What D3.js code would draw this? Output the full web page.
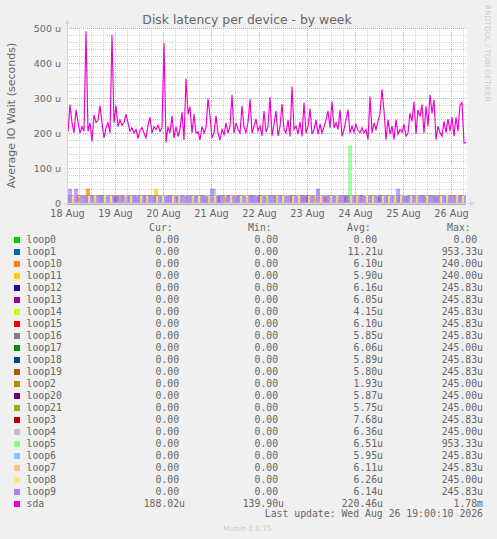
<!DOCTYPE html>
<html><head><meta charset="utf-8">
<script src="https://cdn.jsdelivr.net/npm/d3@7/dist/d3.min.js"></script>
<style>
html,body{margin:0;padding:0;background:#F0F0F0;}
svg{display:block;}
</style></head>
<body>
<script>
// ---------- data ----------
const seriesNames = ["loop0","loop1","loop10","loop11","loop12","loop13","loop14","loop15","loop16","loop17","loop18","loop19","loop2","loop20","loop21","loop3","loop4","loop5","loop6","loop7","loop8","loop9","sda"];
const seriesColors = ["#00CC00","#0066B3","#FF8000","#FFCC00","#330099","#990099","#CCFF00","#FF0000","#808080","#008F00","#00487D","#B35A00","#B38F00","#6B006B","#8FB300","#B30000","#BEBEBE","#80FF80","#80C9FF","#FFC080","#FFE680","#AA80FF","#EE00CC"];
const curValues = ["0.00","0.00","0.00","0.00","0.00","0.00","0.00","0.00","0.00","0.00","0.00","0.00","0.00","0.00","0.00","0.00","0.00","0.00","0.00","0.00","0.00","0.00","188.02u"];
const minValues = ["0.00","0.00","0.00","0.00","0.00","0.00","0.00","0.00","0.00","0.00","0.00","0.00","0.00","0.00","0.00","0.00","0.00","0.00","0.00","0.00","0.00","0.00","139.90u"];
const avgValues = ["0.00","11.21u","6.10u","5.90u","6.16u","6.05u","4.15u","6.10u","5.85u","6.06u","5.89u","5.80u","1.93u","5.87u","5.75u","7.68u","6.36u","6.51u","5.95u","6.11u","6.26u","6.14u","220.46u"];
const maxValues = ["0.00","953.33u","240.00u","240.00u","245.83u","245.83u","245.83u","245.83u","245.83u","245.00u","245.83u","245.83u","245.00u","245.00u","245.00u","245.83u","245.00u","953.33u","245.83u","245.83u","245.00u","245.83u","1.78m"];

// sda: hourly values (micro-seconds), 18 Aug 00:00 onwards
const sdaValues = [204,281,229,200,266,232,200,218,205,491,205,229,176,252,230,237,278,229,186,215,
229,200,481,229,278,218,237,222,230,254,229,205,215,200,210,185,207,215,200,186,
222,245,200,218,210,222,205,215,457,173,218,200,249,186,218,190,212,259,180,355,
254,275,200,254,200,203,180,218,200,215,298,249,186,200,249,200,180,210,195,229,
200,220,309,200,229,210,200,277,218,200,230,297,200,218,240,206,220,192,263,203,
218,303,192,225,263,192,218,283,210,200,237,190,333,210,220,197,232,190,287,200,
218,270,197,210,237,197,225,200,218,237,263,215,290,215,230,210,266,191,210,238,
266,200,220,202,225,207,201,215,200,210,181,304,200,229,210,233,256,325,263,181,
238,197,220,181,238,197,210,202,225,191,200,256,233,290,197,266,247,281,200,276,
220,309,256,295,181,220,201,191,233,201,240,205,245,191,245,205,280,287,172,172];

// loop devices: hourly levels, one digit per hour (digit x 10 u)
const loop0  = "0000000000 0000000000 0000000000 0000000000 0000000000 0000000000 0000000000 0000000000 0000000000 0000000000 0000000000 0000000000 0000000000 0000000000 0000000000 0000000000 0000000000 0000000000 0000000000 0000000000";
const loop1  = "0002000200 0200020000 2000002000 0020000200 0200020000 0002000020 2000020000 0020000200 0200002000 0002000200 2000020000 0020000200 0200002000 0002000020 2000200000 0020000200 0200020000 0002000020 2000002000 0020000200";
const loop10 = "0200002000 4000200000 0020000200 2000020000 0002000020 0200002000 0020000200 2000020000 0002000200 0200002000 0020000020 2000200000 0002000020 0200002000 0020000200 2000020000 0002000200 0200000200 0020002000 2000020000";
const loop11 = "0020000200 0002000020 2000020000 0200002000 0000400200 0020000020 2000200000 0002000200 0200002000 0020000020 2000020000 0002000200 0200002000 0020000200 2000020000 0002000020 0200200000 0020000200 2000020000 0002000020";
const loop12 = "2000200000 0020000200 0200002000 0002000020 2000020000 0020000200 0200020000 0002000020 2000002000 0020000200 0200002000 0002000020 2000200000 0020000200 0200002000 0002000200 2000020000 0020000020 0200002000 0002000200";
const loop13 = "0200020000 0002000200 2000020000 0020000020 0200002000 0002000200 2000020000 0020000200 0200002000 0002000020 2000200000 0020000200 0200002000 0002000020 2000020000 0020000200 0200002000 0002000200 2000020000 0020000020";
const loop14 = "0000200000 0200000020 0002000000 2000000200 0000200000 0020000002 0200000000 0002000200 0000020000 2000000200 0020000000 0000200020 0200000000 0002000002 0000200000 0200000020 0002000000 2000002000 0000200000 0020000002";
const loop15 = "0020000020 2000020000 0002000200 0200002000 0020000200 2000002000 0002000020 0200020000 0020000200 2000002000 0002000200 0200002000 0020000020 2000020000 0002000200 0200002000 0020000200 2000020000 0002000020 0200002000";
const loop16 = "2000002000 0020000200 0200020000 0002000020 2000020000 0020000200 0200002000 0002000200 2000020000 0020000020 0200002000 0002000200 2000020000 0020000200 0200002000 0002000020 2000200000 0020000200 0200002000 0002000200";
const loop17 = "0002000020 0200002000 2000020000 0020000200 0002000020 0200020000 2000002000 0020000200 0002000200 0200002000 2000020000 0020000020 0002000200 0200002000 2000020000 0020000200 0002000020 0200020000 2000002000 0020000200";
const loop18 = "0200002000 2000020000 0020000200 0002000020 0200020000 2000002000 0020000200 0002000200 0200002000 2000020000 0020000020 0002000200 0200002000 2000020000 0020000200 0002000020 0200020000 2000002000 0020000200 0002000200";
const loop19 = "0020000200 0002000020 0200002000 2000020000 0020000200 0002000200 0200002000 2000020000 0020000020 0002000200 0200002000 2000020000 0020000200 0002000020 0200020000 2000002000 0020000200 0002000200 0200002000 2000020000";
const loop2  = "0000000200 0000000000 2000000000 0000020000 0000000000 0200000000 0000000020 0000000000 0020000000 0000000000 0000200000 0000000000 2000000000 0000002000 0000000000 0002000000 0000000000 0200000000 0000000200 0000000000";
const loop20 = "2000020000 0020000200 0002000020 0200002000 2000200000 0020000200 0002000020 0200002000 2000020000 0020000200 0002000200 0200002000 2000020000 0020000020 0002000200 0200002000 2000020000 0020000200 0002000020 0200002000";
const loop21 = "0002000200 0200002000 2000020000 0020000200 0002000020 0200002000 2000200000 0020000200 0002000020 0200002000 2000020000 0020000200 0002000200 0200002000 2000020000 0020000020 0002000200 0200002000 2000020000 0020000200";
const loop3  = "2000020000 0200002000 0020000200 0002000020 2000200000 0200002000 0020000200 0002000020 2000020000 0200002000 0020000200 0002000020 2000200000 0200002000 0020000200 0002000020 2000020000 0200002000 0020000200 0002000020";
const loop4  = "0020000200 2000020000 0200002000 0002000020 0020000200 2000002000 0200020000 0002000200 0020000020 2000200000 0200002000 0002000020 0020040000 2000020000 0200002000 0002000200 0020000020 2000200000 0200002000 0002000020";
const loop5  = "0200000200 0002000020 0020000200 2000020000 0200002000 0002000200 0020000020 2000200000 0200002000 0002000020 0020000200 2000020000 0200002000 0002000200 0000000000 0020000020 2000200000 0200002000 0020000200 0002000020";
const loop6  = "0000200020 0020000200 2000002000 0200020000 0002000020 0020000200 2000020000 0004000200 0200002000 0002000020 0020000200 2000020000 0200002000 0002000200 0020000020 2000200000 0200002000 0020000200 0002000020 2000020000";
const loop7  = "0002000020 0200020000 0200002000 0020000200 2000020000 0002000020 0200002000 0020000200 0000200020 0200000200 0002000020 2000020000 0020002000 0200000200 0002000020 2000200000 0020000200 0002000002 0200002000 0020000200";
const loop8  = "0002002000 0200200002 0020000002 0020000200 2000020020 0002002000 0002002000 0200200002 0020000200 2000000200 2000020020 0002002000 0200200200 0020020000 0020020000 2002000020 0200200200 0020020000 2000000200 2000020020";
const loop9  = "0400400202 0020020200 2002020200 2002020020 0202002002 0200200202 0200200202 0040020200 2002020020 0202020020 0202002002 0200200202 0020040020 2002002020 2002002020 0200202002 0020040020 2002002020 0202020020 0202002002";
const loopLevels = [loop0,loop1,loop10,loop11,loop12,loop13,loop14,loop15,loop16,loop17,loop18,loop19,loop2,loop20,loop21,loop3,loop4,loop5,loop6,loop7,loop8,loop9];
// larger isolated peaks: [series, hour index, value in u]
const loopPeaks = [["loop5", 141, 164]];

const yTickValues = [0,100,200,300,400,500];

// ---------- layout ----------
const W = 497, H = 539;
const PL = 67, PR = 467, PT = 28, PB = 203;
const start = Date.UTC(2026,7,18,0,0,0);
const HOUR = 3600e3;
const NPTS = 200;

const svg = d3.select("body").append("svg").attr("width",W).attr("height",H)
  .style("font-family","'DejaVu Sans', sans-serif");
svg.append("rect").attr("width",W).attr("height",H).attr("fill","#F0F0F0");

const x = d3.scaleUtc().domain([start, start + NPTS*HOUR]).range([PL, PR]);
const y = d3.scaleLinear().domain([0,500]).range([PB, PT]);

svg.append("rect").attr("x",PL).attr("y",PT).attr("width",PR-PL).attr("height",PB-PT).attr("fill","#FFFFFF");

// grid
const g = svg.append("g");
const minorX = d3.utcHour.every(6).range(new Date(start), new Date(start + NPTS*HOUR));
const majorX = d3.utcDay.range(new Date(start), new Date(start + NPTS*HOUR + 1));
const minorY = d3.range(0, 501, 20);
g.selectAll(".mnx").data(minorX.filter(d => d.getUTCHours() !== 0)).join("line")
  .attr("x1", d => Math.round(x(d))+0.5).attr("x2", d => Math.round(x(d))+0.5)
  .attr("y1", PT).attr("y2", PB).attr("stroke","#D0D0D0").attr("stroke-dasharray","1,1");
g.selectAll(".mny").data(minorY.filter(d => d % 100 !== 0)).join("line")
  .attr("x1", PL).attr("x2", PR)
  .attr("y1", d => Math.round(y(d))+0.5).attr("y2", d => Math.round(y(d))+0.5)
  .attr("stroke","#D0D0D0").attr("stroke-dasharray","1,1");
g.selectAll(".mjx").data(majorX).join("line")
  .attr("x1", d => Math.round(x(d))+0.5).attr("x2", d => Math.round(x(d))+0.5)
  .attr("y1", PT).attr("y2", PB).attr("stroke","#E8A0A0").attr("stroke-dasharray","1,1");
g.selectAll(".mjy").data(yTickValues).join("line")
  .attr("x1", PL).attr("x2", PR)
  .attr("y1", d => Math.round(y(d))+0.5).attr("y2", d => Math.round(y(d))+0.5)
  .attr("stroke","#E8A0A0").attr("stroke-dasharray","1,1");

// series
const plot = svg.append("g");

const stepLine = d3.line().x(d => Math.round(x(d.t))).y(d => Math.round(y(d.v)) + 0.5).curve(d3.curveStepAfter);
const linLine = d3.line().x(d => x(d.t)).y(d => y(d.v));

loopLevels.forEach((s, k) => {
  const name = seriesNames[k];
  const vals = s.replace(/ /g,"").split("").map(c => +c * 10);
  loopPeaks.filter(p => p[0] === name).forEach(p => { vals[p[1]] = p[2]; });
  const pts = vals.map((v,i) => ({t: start + i*HOUR, v}));
  pts.push({t: start + vals.length*HOUR - HOUR/2, v: vals[vals.length-1]});
  plot.append("path").attr("d", stepLine(pts)).attr("fill","none")
    .attr("stroke", seriesColors[k]).attr("stroke-width",1.4);
});
const sdaPts = sdaValues.map((v,i) => ({t: start + i*HOUR + HOUR/2, v}));
plot.append("path").attr("d", linLine(sdaPts)).attr("fill","none")
  .attr("stroke", seriesColors[22]).attr("stroke-width",1.15);

// axes lines + arrows
const axisCol = "#CFD6F8";
svg.append("line").attr("x1",PL-3).attr("x2",PR+3).attr("y1",PB+0.5).attr("y2",PB+0.5).attr("stroke",axisCol);
svg.append("line").attr("x1",PL+0.5).attr("x2",PL+0.5).attr("y1",PB+3).attr("y2",PT-4).attr("stroke",axisCol);
svg.append("path").attr("d",`M${PR+3},${PB-2} L${PR+8},${PB+0.5} L${PR+3},${PB+3} Z`).attr("fill",axisCol);
svg.append("path").attr("d",`M${PL-2},${PT-4} L${PL+0.5},${PT-9} L${PL+3},${PT-4} Z`).attr("fill",axisCol);

// axis labels
const xAxis = d3.axisBottom(x).tickValues(majorX).tickFormat(d3.utcFormat("%d %b")).tickSize(0);
const xa = svg.append("g").attr("transform",`translate(0,${PB})`).call(xAxis);
xa.select(".domain").remove();
xa.selectAll("text").attr("y",13.5).attr("dy",0).attr("fill","#666666")
  .style("font-family","'DejaVu Sans', sans-serif").style("font-size","9.7px");

const yAxis = d3.axisLeft(y).tickValues(yTickValues).tickFormat(v => v === 0 ? "0" : v + " u").tickSize(0);
const ya = svg.append("g").attr("transform",`translate(${PL},0)`).call(yAxis);
ya.select(".domain").remove();
ya.selectAll("text").attr("x",-6).attr("dy","0.32em").attr("fill","#666666")
  .style("font-family","'DejaVu Sans', sans-serif").style("font-size","9.5px");

// title and labels
svg.append("text").attr("x",247).attr("y",24).attr("text-anchor","middle")
  .attr("fill","#666666").style("font-size","12.4px").text("Disk latency per device - by week");
svg.append("text").attr("transform",`translate(15,${(PT+PB)/2}) rotate(-90)`).attr("text-anchor","middle")
  .attr("fill","#666666").style("font-size","11px").text("Average IO Wait (seconds)");
svg.append("text").attr("transform",`translate(485,5) rotate(90)`).attr("text-anchor","start")
  .attr("fill","#CCCCCC").style("font-size","7.5px").text("RRDTOOL / TOBI OETIKER");

// legend
const mono = "'DejaVu Sans Mono', monospace";
const fs = 9.8, cw = fs*0.602;
const leg = svg.append("g").style("font-family", mono).style("font-size", fs+"px").attr("fill","#666666");
const colEdges = [185, 284, 383, 483];
["Cur:","Min:","Avg:","Max:"].forEach((h,j) => {
  leg.append("text").attr("x", colEdges[j] - 2*cw - 0.5).attr("y", 231).attr("text-anchor","end").text(h);
});
const cols = [curValues, minValues, avgValues, maxValues];
seriesNames.forEach((n,i) => {
  const cy = 240 + i*12;
  leg.append("rect").attr("x",14).attr("y",cy-3).attr("width",6).attr("height",6).attr("fill",seriesColors[i]);
  leg.append("text").attr("x",26.5).attr("y",cy+3).text(n);
  cols.forEach((arr,j) => {
    const s = arr[i];
    const hasUnit = /[a-zA-Z]$/.test(s);
    leg.append("text").attr("x", colEdges[j] - (hasUnit ? 0 : cw)).attr("y", cy+3)
      .attr("text-anchor","end").text(s);
  });
});
leg.append("text").attr("x",483).attr("y",517).attr("text-anchor","end")
  .text("Last update: Wed Aug 26 19:00:10 2026");

svg.append("text").attr("x",247.5).attr("y",531).attr("text-anchor","middle")
  .attr("fill","#CCCCCC").style("font-size","7.4px").text("Munin 2.0.75");
</script>
</body></html>
